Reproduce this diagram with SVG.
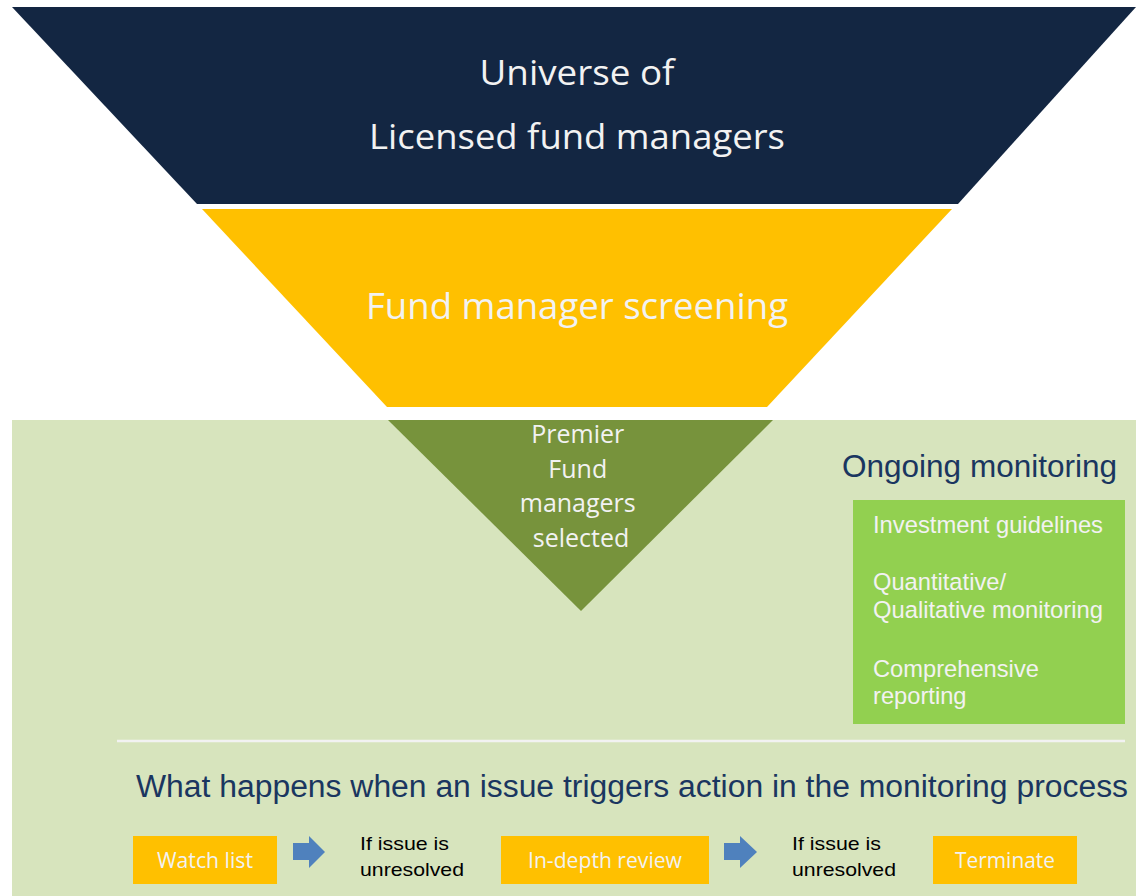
<svg xmlns="http://www.w3.org/2000/svg" width="1136" height="896" viewBox="0 0 1136 896">
  <style>
    .cal { font-family: "Open Sans", "Noto Sans", "DejaVu Sans", sans-serif; fill: #f2f2f2; }
    .ari { font-family: "Liberation Sans", Arial, sans-serif; }
    .navy { fill: #1a3660; }
    .box { fill: #ffc000; }
    .arrow { fill: #4f81bd; }
    .small { font-size: 19px; fill: #000000; }
    .mon { font-size: 23.7px; fill: #f2f2f2; }
    .btn { font-size: 21px; }
  </style>
  <rect x="0" y="0" width="1136" height="896" fill="#ffffff"/>

  <g id="universe">
    <polygon points="12,7 1136,7 958,204 197,204" fill="#132642"/>
    <text class="cal" x="577" y="85" font-size="35" text-anchor="middle" textLength="195" lengthAdjust="spacingAndGlyphs">Universe of</text>
    <text class="cal" x="577" y="149" font-size="35" text-anchor="middle" textLength="416" lengthAdjust="spacingAndGlyphs">Licensed fund managers</text>
  </g>

  <g id="screening">
    <polygon points="202,209 952,209 767,407 387,407" fill="#ffc000"/>
    <text class="cal" x="577" y="319" font-size="36" text-anchor="middle" textLength="422" lengthAdjust="spacingAndGlyphs">Fund manager screening</text>
  </g>

  <g id="monitoring-area">
    <rect x="12" y="420" width="1124" height="476" fill="#d7e4bd"/>
  </g>

  <g id="premier">
    <polygon points="388,420 773,420 581,611" fill="#77933c"/>
    <text class="cal" font-size="25" text-anchor="middle">
      <tspan x="581" y="443">Premier</tspan>
      <tspan x="581" y="478">Fund</tspan>
      <tspan x="581" y="512">managers</tspan>
      <tspan x="581" y="547">selected</tspan>
    </text>
  </g>

  <g id="ongoing-monitoring">
    <text class="ari navy" x="842" y="477" font-size="31" textLength="275" lengthAdjust="spacingAndGlyphs">Ongoing monitoring</text>
    <rect x="853" y="500" width="272" height="224" fill="#92d050"/>
    <text class="ari mon" x="873" y="533" textLength="230" lengthAdjust="spacingAndGlyphs">Investment guidelines</text>
    <text class="ari mon" x="873" y="590">Quantitative/</text>
    <text class="ari mon" x="873" y="618" textLength="230" lengthAdjust="spacingAndGlyphs">Qualitative monitoring</text>
    <text class="ari mon" x="873" y="677">Comprehensive</text>
    <text class="ari mon" x="873" y="704">reporting</text>
  </g>

  <g id="separator">
    <line x1="117" y1="741" x2="1125" y2="741" stroke="#f2f2f2" stroke-width="2.5"/>
  </g>

  <g id="title">
    <text class="ari navy" x="136" y="797" font-size="31" textLength="992" lengthAdjust="spacingAndGlyphs">What happens when an issue triggers action in the monitoring process</text>
  </g>

  <g id="watch-list">
    <rect class="box" x="133" y="836" width="144" height="48"/>
    <text class="cal btn" x="205" y="868" text-anchor="middle" textLength="96" lengthAdjust="spacingAndGlyphs">Watch list</text>
  </g>

  <g id="in-depth-review">
    <rect class="box" x="501" y="836" width="208" height="48"/>
    <text class="cal btn" x="605" y="868" text-anchor="middle" textLength="154" lengthAdjust="spacingAndGlyphs">In-depth review</text>
  </g>

  <g id="terminate">
    <rect class="box" x="933" y="836" width="144" height="48"/>
    <text class="cal btn" x="1005" y="868" text-anchor="middle" textLength="100" lengthAdjust="spacingAndGlyphs">Terminate</text>
  </g>

  <g id="connectors">
    <polygon class="arrow" points="293,843 309,843 309,836 325,852 309,868 309,860 293,860"/>
    <text class="ari small" x="360" y="850" textLength="89" lengthAdjust="spacingAndGlyphs">If issue is</text>
    <text class="ari small" x="360" y="876" textLength="104" lengthAdjust="spacingAndGlyphs">unresolved</text>
    <polygon class="arrow" points="724,843 740,843 740,836 757,852 740,868 740,860 724,860"/>
    <text class="ari small" x="792" y="850" textLength="89" lengthAdjust="spacingAndGlyphs">If issue is</text>
    <text class="ari small" x="792" y="876" textLength="104" lengthAdjust="spacingAndGlyphs">unresolved</text>
  </g>
</svg>
